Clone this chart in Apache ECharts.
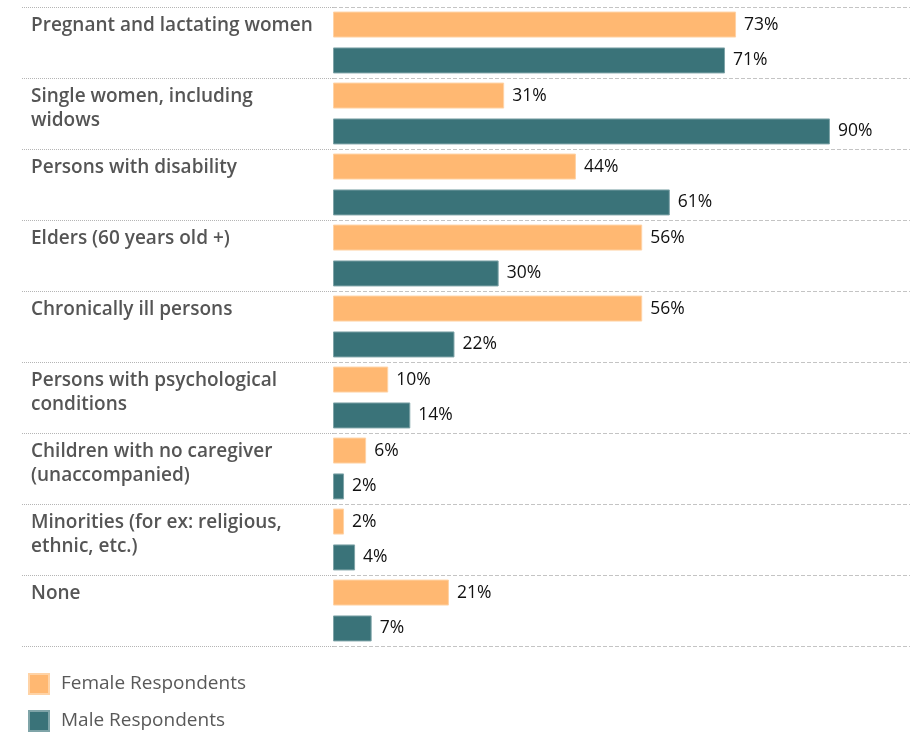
<!DOCTYPE html>
<html>
<head>
<meta charset="utf-8">
<script src="https://cdn.jsdelivr.net/npm/echarts@6/dist/echarts.min.js"></script>
<style>html,body{margin:0;padding:0;background:#fff}#c{width:912px;height:733px}</style>
</head>
<body>
<div id="c"></div>
<script>
var categories = [
  'Pregnant and lactating women',
  'Single women, including\nwidows',
  'Persons with disability',
  'Elders (60 years old +)',
  'Chronically ill persons',
  'Persons with psychological\nconditions',
  'Children with no caregiver\n(unaccompanied)',
  'Minorities (for ex: religious,\nethnic, etc.)',
  'None'
];
var femaleValues = [73, 31, 44, 56, 56, 10, 6, 2, 21];
var maleValues = [71, 90, 61, 30, 22, 14, 2, 4, 7];
var seriesNames = ['Female Respondents', 'Male Respondents'];

var FONT = 'Open Sans';
var chart = echarts.init(document.getElementById('c'));
var labelCfg = {
  show: true, position: 'right', distance: 8,
  color: '#111', fontFamily: FONT, fontSize: 17.5,
  formatter: function (p) { return p.value + '%'; }
};
chart.setOption({
  animation: false,
  textStyle: { fontFamily: FONT },
  grid: [
    { left: 22, width: 311, top: 7, bottom: 87 },
    { left: 333, right: 2, top: 7, bottom: 87 }
  ],
  xAxis: [
    { gridIndex: 0, type: 'value', show: false, min: 0, max: 1 },
    { gridIndex: 1, type: 'value', show: false, min: 0, max: 104.5 }
  ],
  yAxis: [
    {
      gridIndex: 0, type: 'category', inverse: true, boundaryGap: false,
      data: categories.concat(['']),
      axisLine: { show: false }, axisTick: { show: false },
      axisLabel: {
        interval: 0, hideOverlap: false, align: 'left', verticalAlign: 'top',
        margin: -9, padding: [7, 0, 0, 0], lineHeight: 24,
        color: '#555', fontFamily: FONT, fontWeight: 600, fontSize: 19
      },
      splitLine: { show: true, lineStyle: { color: '#b5b5b5', type: [1, 1] } }
    },
    {
      gridIndex: 1, type: 'category', inverse: true, data: categories,
      axisLine: { show: false }, axisTick: { show: false }, axisLabel: { show: false },
      splitLine: { show: true, lineStyle: { color: '#c4c4c4', type: [4, 2] } }
    }
  ],
  legend: {
    orient: 'vertical', left: 28, top: 673, padding: 0, height: 100,
    itemWidth: 20, itemHeight: 20, itemGap: 15,
    icon: 'rect',
    textStyle: { color: '#595959', fontFamily: FONT, fontSize: 19, lineHeight: 20, padding: [0, 0, 0, 7] },
    data: seriesNames
  },
  series: [
    {
      name: seriesNames[0], type: 'bar', xAxisIndex: 1, yAxisIndex: 1,
      data: femaleValues, barWidth: 26, barGap: '38%',
      itemStyle: { color: '#FFB872', borderColor: '#FFD3A6', borderWidth: 1 },
      label: labelCfg
    },
    {
      name: seriesNames[1], type: 'bar', xAxisIndex: 1, yAxisIndex: 1,
      data: maleValues, barWidth: 26, barGap: '38%',
      itemStyle: { color: '#3A7379', borderColor: '#7FA4A8', borderWidth: 1 },
      label: labelCfg
    }
  ]
});
</script>
</body>
</html>
